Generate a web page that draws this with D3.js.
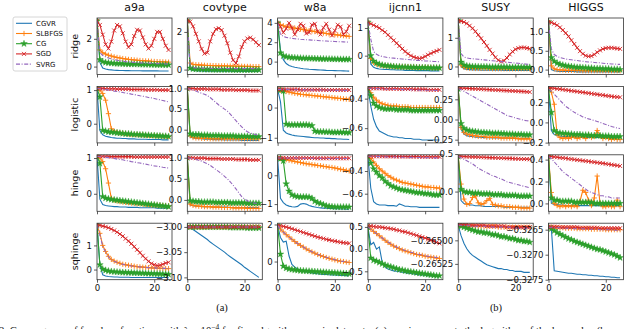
<!DOCTYPE html>
<html>
<head>
<meta charset="utf-8">
<script src="https://cdn.jsdelivr.net/npm/d3@7"></script>
<style>
  body { margin: 0; background: #fff; }
  svg { display: block; }
  text { fill: #111; }
</style>
</head>
<body>
<div id="chart"></div>
<script>
const datasets = ["a9a", "covtype", "w8a", "ijcnn1", "SUSY", "HIGGS"]
const losses = ["ridge", "logistic", "hinge", "sqhinge"]
const algorithms = ["CGVR", "SLBFGS", "CG", "SGD", "SVRG"]
const epochs = [0, 1, 2, 3, 4, 5, 6, 7, 8, 9, 10, 11, 12, 13, 14, 15, 16, 17, 18, 19, 20, 21, 22, 23, 24, 25]
const xTicks = [0, 20]

// y range and ticks of every panel, one row per loss
const ridgeDomains = [[-0.57, 3.5], [-0.26, 2.74], [-1.33, 4.5], [-0.68, 1.36], [-0.28, 1.69], [-0.13, 1.37]]
const logisticDomains = [[-0.57, 1.11], [-0.32, 1.05], [-1.17, 0.7], [-0.70, -0.317], [-0.29, 0.41], [-0.203, 0.357]]
const hingeDomains = [[-0.49, 1.09], [-0.27, 1.07], [-1.25, 0.71], [-0.755, -0.257], [-0.263, 0.49], [-0.072, 0.444]]
const sqhingeDomains = [[-0.42, 1.92], [-3.1046, -2.9926], [-0.98, 2.07], [-0.689, 0.584], [-0.265418, -0.264818], [-0.3275, -0.32637]]

const ridgeTicks = [[0, 2], [0, 2], [0, 2, 4], [0, 1], [0, 1], [0, 0.5, 1]]
const ridgeTickLabels = [["0", "2"], ["0", "2"], ["0", "2", "4"], ["0", "1"], ["0", "1"], ["0.0", "0.5", "1.0"]]
const logisticTicks = [[0, 1], [0, 0.5, 1], [-1, 0], [-0.6, -0.4], [-0.25, 0, 0.25], [-0.2, 0, 0.2]]
const logisticTickLabels = [["0", "1"], ["0.0", "0.5", "1.0"], ["−1", "0"], ["−0.6", "−0.4"], ["−0.25", "0.00", "0.25"], ["−0.2", "0.0", "0.2"]]
const hingeTicks = [[0, 1], [0, 0.5, 1], [-1, 0], [-0.6, -0.4], [0, 0.5], [0, 0.2, 0.4]]
const hingeTickLabels = [["0", "1"], ["0.0", "0.5", "1.0"], ["−1", "0"], ["−0.6", "−0.4"], ["0.0", "0.5"], ["0.0", "0.2", "0.4"]]
const sqhingeTicks = [[0, 1], [-3.1, -3.05, -3.0], [0, 2], [-0.5, 0, 0.5], [-0.26525, -0.265], [-0.3275, -0.327, -0.3265]]
const sqhingeTickLabels = [["0", "1"], ["−3.10", "−3.05", "−3.00"], ["0", "2"], ["−0.5", "0.0", "0.5"], ["−0.26525", "−0.26500"], ["−0.3275", "−0.3270", "−0.3265"]]

// ridge
const ridgeCGVR = [
  [3.3, 0.3, -0.1, -0.18, -0.22, -0.24, -0.26, -0.27, -0.28, -0.28, -0.29, -0.29, -0.3, -0.3, -0.3, -0.3, -0.31, -0.31, -0.31, -0.31, -0.31, -0.31, -0.32, -0.32, -0.32, -0.32],
  [2.6, 0.0, -0.05, -0.06, -0.07, -0.07, -0.08, -0.08, -0.08, -0.08, -0.09, -0.09, -0.09, -0.09, -0.09, -0.09, -0.1, -0.1, -0.1, -0.1, -0.1, -0.1, -0.1, -0.1, -0.1, -0.1],
  [4.0, 1.2, 0.2, -0.2, -0.4, -0.5, -0.58, -0.64, -0.69, -0.73, -0.76, -0.79, -0.81, -0.83, -0.85, -0.87, -0.88, -0.9, -0.91, -0.92, -0.93, -0.94, -0.95, -0.96, -0.97, -0.98],
  [1.2, -0.3, -0.42, -0.46, -0.48, -0.49, -0.5, -0.5, -0.51, -0.51, -0.52, -0.52, -0.52, -0.53, -0.53, -0.53, -0.53, -0.54, -0.54, -0.54, -0.54, -0.54, -0.55, -0.55, -0.55, -0.55],
  [1.6, 0.0, -0.08, -0.1, -0.11, -0.12, -0.12, -0.12, -0.13, -0.13, -0.13, -0.13, -0.13, -0.13, -0.13, -0.13, -0.14, -0.14, -0.14, -0.14, -0.14, -0.14, -0.14, -0.14, -0.14, -0.14],
  [1.27, 0.0, -0.03, -0.04, -0.05, -0.05, -0.05, -0.05, -0.05, -0.05, -0.06, -0.06, -0.06, -0.06, -0.06, -0.06, -0.06, -0.06, -0.06, -0.06, -0.06, -0.06, -0.06, -0.06, -0.06, -0.06]
]
const ridgeSLBFGS = [
  [3.3, 1.2, 1.0, 0.9, 0.82, 0.76, 0.7, 0.66, 0.62, 0.58, 0.55, 0.52, 0.5, 0.48, 0.46, 0.44, 0.42, 0.41, 0.4, 0.38, 0.37, 0.36, 0.35, 0.34, 0.33, 0.32],
  [2.6, 0.35, 0.28, 0.26, 0.25, 0.24, 0.23, 0.22, 0.22, 0.21, 0.21, 0.2, 0.2, 0.2, 0.19, 0.19, 0.19, 0.18, 0.18, 0.18, 0.17, 0.17, 0.17, 0.16, 0.16, 0.16],
  [4.0, 3.8, 3.7, 3.6, 3.55, 3.5, 3.45, 3.4, 3.35, 3.3, 3.25, 3.2, 3.15, 3.1, 3.05, 3.0, 2.95, 2.9, 2.85, 2.8, 2.78, 2.75, 2.72, 2.68, 2.65, 2.6],
  [1.2, -0.1, -0.25, -0.3, -0.33, -0.35, -0.36, -0.37, -0.38, -0.38, -0.39, -0.39, -0.4, -0.4, -0.4, -0.41, -0.41, -0.41, -0.42, -0.42, -0.42, -0.42, -0.43, -0.43, -0.43, -0.43],
  [1.6, 0.05, -0.03, -0.05, -0.06, -0.06, -0.07, -0.07, -0.07, -0.07, -0.07, -0.07, -0.08, -0.08, -0.08, -0.08, -0.08, -0.08, -0.08, -0.08, -0.08, -0.08, -0.08, -0.08, -0.08, -0.08],
  [1.27, 0.1, 0.02, 0.0, -0.01, -0.01, -0.02, -0.02, -0.02, -0.02, -0.02, -0.02, -0.03, -0.03, -0.03, -0.03, -0.03, -0.03, -0.03, -0.03, -0.03, -0.03, -0.03, -0.03, -0.03, -0.03]
]
const ridgeCG = [
  [3.3, 0.5, 0.35, 0.3, 0.27, 0.25, 0.23, 0.22, 0.21, 0.2, 0.19, 0.18, 0.18, 0.17, 0.17, 0.16, 0.16, 0.15, 0.15, 0.14, 0.14, 0.13, 0.13, 0.12, 0.12, 0.12],
  [2.6, 0.08, 0.04, 0.03, 0.02, 0.02, 0.01, 0.01, 0.01, 0.0, 0.0, 0.0, 0.0, 0.0, 0.0, 0.0, -0.01, -0.01, -0.01, -0.01, -0.01, -0.01, -0.01, -0.01, -0.01, -0.01],
  [4.0, 0.9, 0.6, 0.5, 0.45, 0.42, 0.4, 0.38, 0.36, 0.35, 0.34, 0.33, 0.32, 0.31, 0.3, 0.29, 0.28, 0.27, 0.27, 0.26, 0.25, 0.25, 0.24, 0.24, 0.23, 0.23],
  [1.2, 0.0, -0.2, -0.27, -0.31, -0.34, -0.36, -0.37, -0.38, -0.39, -0.4, -0.4, -0.41, -0.41, -0.42, -0.42, -0.42, -0.43, -0.43, -0.43, -0.43, -0.44, -0.44, -0.44, -0.44, -0.44],
  [1.6, 0.15, 0.05, 0.02, 0.01, 0.0, 0.0, -0.01, -0.01, -0.01, -0.01, -0.02, -0.02, -0.02, -0.02, -0.02, -0.02, -0.02, -0.03, -0.03, -0.03, -0.03, -0.03, -0.03, -0.03, -0.03],
  [1.27, 0.32, 0.22, 0.17, 0.14, 0.12, 0.1, 0.09, 0.08, 0.07, 0.06, 0.06, 0.05, 0.05, 0.04, 0.04, 0.03, 0.03, 0.03, 0.02, 0.02, 0.02, 0.01, 0.01, 0.01, 0.0]
]
const ridgeSGD = [
  [3.3, 3.0, 2.3, 1.6, 1.3, 1.8, 2.6, 3.0, 2.9, 2.4, 1.8, 1.4, 1.6, 2.2, 2.65, 2.6, 2.1, 1.6, 1.3, 1.5, 2.0, 2.5, 2.5, 2.0, 1.5, 1.2],
  [2.6, 2.55, 2.3, 1.9, 1.5, 1.1, 0.85, 0.9, 1.5, 1.9, 2.15, 2.2, 2.1, 1.8, 1.4, 0.9, 0.5, 0.35, 0.7, 1.2, 1.5, 1.65, 1.7, 1.6, 1.45, 1.3],
  [4.0, 3.6, 3.0, 3.4, 4.0, 3.5, 2.8, 3.3, 3.9, 3.7, 2.9, 3.0, 3.8, 3.9, 3.1, 2.8, 3.5, 3.9, 3.3, 2.7, 3.2, 3.8, 3.6, 2.8, 3.1, 3.7],
  [1.2, 1.15, 1.1, 1.05, 1.0, 0.92, 0.85, 0.75, 0.65, 0.55, 0.45, 0.35, 0.25, 0.15, 0.07, 0.0, -0.05, -0.08, -0.1, -0.08, -0.03, 0.03, 0.08, 0.13, 0.17, 0.21],
  [1.6, 1.58, 1.55, 1.5, 1.42, 1.33, 1.22, 1.1, 0.98, 0.85, 0.72, 0.58, 0.45, 0.32, 0.22, 0.17, 0.2, 0.3, 0.42, 0.52, 0.6, 0.64, 0.66, 0.66, 0.64, 0.62],
  [1.27, 1.25, 1.22, 1.18, 1.12, 1.05, 0.97, 0.88, 0.78, 0.68, 0.58, 0.49, 0.42, 0.37, 0.35, 0.36, 0.4, 0.46, 0.51, 0.55, 0.57, 0.58, 0.58, 0.57, 0.56, 0.55]
]
const ridgeSVRG = [
  [3.3, 1.0, 0.8, 0.7, 0.62, 0.56, 0.5, 0.46, 0.42, 0.39, 0.36, 0.34, 0.32, 0.3, 0.28, 0.27, 0.26, 0.25, 0.24, 0.23, 0.22, 0.21, 0.2, 0.2, 0.19, 0.19],
  [2.6, 0.15, 0.1, 0.09, 0.08, 0.08, 0.07, 0.07, 0.07, 0.06, 0.06, 0.06, 0.06, 0.06, 0.06, 0.05, 0.05, 0.05, 0.05, 0.05, 0.05, 0.05, 0.05, 0.05, 0.05, 0.05],
  [4.0, 2.8, 2.6, 2.5, 2.45, 2.4, 2.36, 2.33, 2.3, 2.28, 2.26, 2.24, 2.22, 2.2, 2.18, 2.16, 2.14, 2.12, 2.1, 2.09, 2.08, 2.06, 2.05, 2.04, 2.02, 2.0],
  [1.2, 0.6, 0.15, 0.05, 0.0, -0.03, -0.05, -0.07, -0.08, -0.09, -0.1, -0.11, -0.12, -0.13, -0.14, -0.15, -0.16, -0.17, -0.17, -0.18, -0.19, -0.19, -0.2, -0.21, -0.21, -0.22],
  [1.6, 0.45, 0.33, 0.3, 0.28, 0.27, 0.26, 0.25, 0.24, 0.23, 0.22, 0.21, 0.2, 0.19, 0.18, 0.17, 0.16, 0.15, 0.14, 0.13, 0.12, 0.11, 0.1, 0.09, 0.08, 0.07],
  [1.27, 0.55, 0.4, 0.35, 0.32, 0.3, 0.28, 0.27, 0.26, 0.25, 0.24, 0.23, 0.22, 0.21, 0.2, 0.2, 0.19, 0.18, 0.18, 0.17, 0.16, 0.16, 0.15, 0.15, 0.14, 0.14]
]

// logistic
const logisticCGVR = [
  [1.05, -0.2, -0.33, -0.37, -0.39, -0.41, -0.42, -0.43, -0.43, -0.44, -0.44, -0.45, -0.45, -0.45, -0.46, -0.46, -0.46, -0.46, -0.47, -0.47, -0.47, -0.47, -0.47, -0.48, -0.48, -0.48],
  [1.0, -0.18, -0.2, -0.21, -0.22, -0.22, -0.23, -0.23, -0.23, -0.24, -0.24, -0.24, -0.24, -0.25, -0.25, -0.25, -0.25, -0.25, -0.25, -0.26, -0.26, -0.26, -0.26, -0.26, -0.26, -0.26],
  [0.6, 0.2, -0.75, -0.84, -0.88, -0.91, -0.93, -0.94, -0.95, -0.96, -0.97, -0.98, -0.99, -1.0, -1.0, -1.01, -1.01, -1.02, -1.02, -1.03, -1.03, -1.04, -1.04, -1.05, -1.05, -1.06],
  [-0.33, -0.45, -0.54, -0.59, -0.62, -0.63, -0.64, -0.65, -0.655, -0.66, -0.66, -0.665, -0.665, -0.67, -0.67, -0.67, -0.675, -0.675, -0.675, -0.68, -0.68, -0.68, -0.68, -0.68, -0.68, -0.68],
  [0.38, -0.12, -0.18, -0.2, -0.21, -0.21, -0.22, -0.22, -0.22, -0.225, -0.225, -0.225, -0.23, -0.23, -0.23, -0.23, -0.23, -0.23, -0.235, -0.235, -0.235, -0.235, -0.235, -0.235, -0.235, -0.235],
  [0.33, -0.08, -0.12, -0.13, -0.135, -0.14, -0.14, -0.14, -0.145, -0.145, -0.145, -0.145, -0.15, -0.15, -0.15, -0.15, -0.15, -0.15, -0.15, -0.15, -0.15, -0.15, -0.15, -0.15, -0.15, -0.15]
]
const logisticSLBFGS = [
  [1.05, 1.0, 0.9, 0.7, 0.3, -0.15, -0.22, -0.25, -0.27, -0.28, -0.29, -0.3, -0.31, -0.32, -0.32, -0.33, -0.33, -0.34, -0.34, -0.35, -0.35, -0.36, -0.36, -0.37, -0.37, -0.38],
  [1.0, -0.15, -0.19, -0.2, -0.2, -0.21, -0.21, -0.21, -0.22, -0.22, -0.22, -0.22, -0.22, -0.22, -0.22, -0.22, -0.22, -0.22, -0.22, -0.22, -0.22, -0.22, -0.22, -0.22, -0.22, -0.22],
  [0.6, 0.57, 0.55, 0.53, 0.51, 0.49, 0.47, 0.46, 0.44, 0.43, 0.42, 0.41, 0.4, 0.39, 0.38, 0.37, 0.36, 0.35, 0.34, 0.33, 0.32, 0.31, 0.3, 0.29, 0.28, 0.27],
  [-0.33, -0.36, -0.39, -0.41, -0.425, -0.435, -0.44, -0.445, -0.45, -0.45, -0.45, -0.455, -0.455, -0.455, -0.455, -0.46, -0.46, -0.46, -0.46, -0.46, -0.46, -0.46, -0.46, -0.46, -0.46, -0.46],
  [0.38, -0.1, -0.16, -0.18, -0.19, -0.2, -0.2, -0.21, -0.21, -0.21, -0.22, -0.22, -0.22, -0.22, -0.22, -0.23, -0.23, -0.23, -0.23, -0.23, -0.23, -0.24, -0.24, -0.24, -0.24, -0.24],
  [0.33, 0.3, 0.18, -0.12, -0.15, -0.16, -0.15, -0.16, -0.15, -0.14, -0.16, -0.15, -0.14, -0.16, -0.12, -0.15, -0.14, -0.08, -0.13, -0.16, -0.15, -0.16, -0.17, -0.16, -0.17, -0.17]
]
const logisticCG = [
  [1.05, 0.8, -0.2, -0.22, -0.24, -0.25, -0.26, -0.27, -0.28, -0.29, -0.3, -0.3, -0.31, -0.32, -0.32, -0.33, -0.33, -0.34, -0.34, -0.35, -0.35, -0.36, -0.36, -0.37, -0.37, -0.38],
  [1.0, -0.1, -0.12, -0.12, -0.12, -0.13, -0.13, -0.13, -0.14, -0.14, -0.14, -0.14, -0.15, -0.15, -0.15, -0.15, -0.15, -0.16, -0.16, -0.16, -0.16, -0.16, -0.17, -0.17, -0.17, -0.17],
  [0.6, 0.58, 0.55, -0.55, -0.57, -0.57, -0.57, -0.57, -0.57, -0.57, -0.57, -0.58, -0.6, -0.78, -0.8, -0.8, -0.8, -0.81, -0.81, -0.82, -0.82, -0.82, -0.82, -0.82, -0.83, -0.83],
  [-0.33, -0.38, -0.43, -0.45, -0.46, -0.465, -0.47, -0.47, -0.47, -0.47, -0.475, -0.475, -0.475, -0.475, -0.475, -0.48, -0.48, -0.48, -0.48, -0.48, -0.48, -0.48, -0.48, -0.48, -0.48, -0.48],
  [0.38, -0.05, -0.11, -0.13, -0.14, -0.145, -0.15, -0.155, -0.16, -0.16, -0.165, -0.165, -0.17, -0.17, -0.17, -0.175, -0.175, -0.18, -0.18, -0.18, -0.185, -0.185, -0.185, -0.19, -0.19, -0.19],
  [0.33, 0.1, -0.08, -0.1, -0.105, -0.11, -0.11, -0.115, -0.115, -0.12, -0.12, -0.12, -0.125, -0.125, -0.125, -0.13, -0.13, -0.13, -0.13, -0.135, -0.135, -0.135, -0.14, -0.14, -0.14, -0.14]
]
const logisticSGD = [
  [1.05, 1.05, 1.05, 1.04, 1.04, 1.04, 1.04, 1.03, 1.03, 1.03, 1.03, 1.03, 1.02, 1.02, 1.02, 1.02, 1.02, 1.01, 1.01, 1.01, 1.01, 1.01, 1.0, 1.0, 1.0, 1.0],
  [1.0, 1.0, 1.0, 0.99, 0.99, 0.99, 0.99, 0.98, 0.98, 0.98, 0.98, 0.98, 0.97, 0.97, 0.97, 0.97, 0.97, 0.96, 0.96, 0.96, 0.96, 0.96, 0.95, 0.95, 0.95, 0.95],
  [0.6, 0.6, 0.6, 0.6, 0.6, 0.6, 0.6, 0.6, 0.59, 0.59, 0.59, 0.59, 0.59, 0.59, 0.59, 0.59, 0.59, 0.58, 0.58, 0.58, 0.58, 0.58, 0.58, 0.58, 0.58, 0.58],
  [-0.33, -0.33, -0.33, -0.33, -0.33, -0.33, -0.333, -0.333, -0.333, -0.333, -0.333, -0.335, -0.335, -0.335, -0.335, -0.335, -0.337, -0.337, -0.337, -0.337, -0.337, -0.34, -0.34, -0.34, -0.34, -0.34],
  [0.39, 0.39, 0.388, 0.386, 0.384, 0.382, 0.38, 0.378, 0.376, 0.374, 0.372, 0.37, 0.368, 0.366, 0.364, 0.362, 0.36, 0.358, 0.356, 0.354, 0.352, 0.35, 0.348, 0.346, 0.343, 0.34],
  [0.345, 0.342, 0.338, 0.334, 0.33, 0.326, 0.322, 0.318, 0.314, 0.31, 0.306, 0.302, 0.298, 0.294, 0.29, 0.286, 0.282, 0.278, 0.274, 0.27, 0.266, 0.262, 0.258, 0.255, 0.252, 0.249]
]
const logisticSVRG = [
  [1.05, 1.04, 1.03, 1.02, 1.0, 0.99, 0.97, 0.96, 0.94, 0.93, 0.91, 0.9, 0.88, 0.87, 0.85, 0.83, 0.82, 0.8, 0.78, 0.77, 0.75, 0.73, 0.71, 0.69, 0.67, 0.65],
  [1.0, 0.98, 0.96, 0.94, 0.91, 0.88, 0.86, 0.83, 0.78, 0.72, 0.66, 0.6, 0.55, 0.5, 0.45, 0.38, 0.3, 0.22, 0.14, 0.07, 0.0, -0.05, -0.08, -0.1, -0.12, -0.13],
  [0.6, 0.6, 0.6, 0.6, 0.6, 0.59, 0.59, 0.59, 0.59, 0.59, 0.59, 0.59, 0.58, 0.58, 0.58, 0.58, 0.58, 0.58, 0.58, 0.57, 0.57, 0.57, 0.57, 0.57, 0.57, 0.57],
  [-0.33, -0.33, -0.331, -0.332, -0.333, -0.334, -0.335, -0.336, -0.337, -0.337, -0.338, -0.338, -0.339, -0.339, -0.34, -0.34, -0.341, -0.341, -0.342, -0.342, -0.343, -0.343, -0.344, -0.344, -0.345, -0.345],
  [0.38, 0.37, 0.35, 0.33, 0.31, 0.29, 0.27, 0.25, 0.23, 0.21, 0.19, 0.17, 0.15, 0.13, 0.11, 0.09, 0.07, 0.05, 0.04, 0.03, 0.02, 0.01, 0.0, -0.01, -0.015, -0.02],
  [0.33, 0.31, 0.28, 0.25, 0.22, 0.19, 0.16, 0.14, 0.12, 0.1, 0.085, 0.07, 0.055, 0.045, 0.035, 0.027, 0.018, 0.01, 0.0, -0.01, -0.02, -0.03, -0.04, -0.048, -0.055, -0.06]
]

// hinge
const hingeCGVR = [
  [1.05, -0.15, -0.3, -0.33, -0.34, -0.35, -0.36, -0.36, -0.37, -0.37, -0.37, -0.38, -0.38, -0.38, -0.38, -0.39, -0.39, -0.39, -0.39, -0.39, -0.39, -0.4, -0.4, -0.4, -0.4, -0.4],
  [1.0, -0.12, -0.14, -0.15, -0.15, -0.16, -0.16, -0.16, -0.16, -0.17, -0.17, -0.17, -0.17, -0.17, -0.17, -0.18, -0.18, -0.18, -0.18, -0.18, -0.18, -0.18, -0.18, -0.18, -0.18, -0.18],
  [0.6, -0.8, -0.95, -1.03, -1.07, -1.09, -1.1, -1.08, -1.0, -0.98, -1.0, -1.05, -1.08, -1.1, -1.12, -1.13, -1.14, -1.14, -1.15, -1.15, -1.16, -1.16, -1.17, -1.17, -1.18, -1.18],
  [-0.27, -0.55, -0.67, -0.69, -0.7, -0.7, -0.7, -0.705, -0.705, -0.705, -0.71, -0.69, -0.7, -0.71, -0.71, -0.715, -0.715, -0.715, -0.72, -0.72, -0.72, -0.72, -0.72, -0.72, -0.72, -0.72],
  [0.47, -0.12, -0.16, -0.17, -0.18, -0.18, -0.19, -0.19, -0.19, -0.2, -0.2, -0.2, -0.2, -0.2, -0.2, -0.2, -0.21, -0.21, -0.21, -0.21, -0.21, -0.21, -0.21, -0.21, -0.21, -0.21],
  [0.43, 0.0, -0.01, -0.01, -0.015, -0.015, -0.02, -0.02, -0.02, -0.02, -0.02, -0.02, -0.02, -0.02, -0.02, -0.02, -0.02, -0.02, -0.02, -0.02, -0.02, -0.02, -0.02, -0.02, -0.02, -0.02]
]
const hingeSLBFGS = [
  [1.05, 1.0, 0.9, 0.7, 0.3, -0.12, -0.18, -0.2, -0.22, -0.23, -0.24, -0.25, -0.26, -0.27, -0.28, -0.28, -0.29, -0.3, -0.3, -0.31, -0.31, -0.32, -0.32, -0.33, -0.33, -0.34],
  [1.0, -0.1, -0.13, -0.14, -0.15, -0.15, -0.16, -0.16, -0.16, -0.17, -0.17, -0.17, -0.18, -0.18, -0.18, -0.18, -0.19, -0.19, -0.19, -0.19, -0.19, -0.2, -0.2, -0.2, -0.2, -0.2],
  [0.6, 0.58, 0.56, 0.54, 0.52, 0.5, 0.48, 0.46, 0.44, 0.42, 0.4, 0.39, 0.37, 0.36, 0.34, 0.33, 0.31, 0.3, 0.28, 0.27, 0.25, 0.23, 0.21, 0.19, 0.17, 0.15],
  [-0.27, -0.29, -0.32, -0.35, -0.38, -0.4, -0.42, -0.44, -0.455, -0.47, -0.48, -0.49, -0.5, -0.505, -0.51, -0.515, -0.52, -0.525, -0.53, -0.535, -0.54, -0.54, -0.545, -0.545, -0.55, -0.55],
  [0.47, 0.1, -0.1, -0.17, -0.16, -0.08, -0.06, -0.15, -0.17, -0.16, -0.12, -0.09, -0.17, -0.18, -0.19, -0.19, -0.2, -0.2, -0.2, -0.21, -0.21, -0.21, -0.22, -0.22, -0.22, -0.22],
  [0.43, 0.1, 0.0, -0.02, -0.03, -0.02, -0.03, -0.02, -0.03, -0.02, -0.03, 0.02, 0.12, 0.1, 0.03, -0.02, 0.05, 0.25, 0.0, -0.03, -0.03, -0.02, -0.03, -0.03, 0.03, -0.03]
]
const hingeCG = [
  [1.05, 0.85, -0.08, -0.12, -0.14, -0.16, -0.17, -0.18, -0.19, -0.2, -0.21, -0.22, -0.23, -0.24, -0.25, -0.26, -0.27, -0.28, -0.29, -0.3, -0.31, -0.32, -0.33, -0.34, -0.35, -0.36],
  [1.0, -0.02, -0.03, -0.04, -0.04, -0.05, -0.05, -0.05, -0.05, -0.05, -0.06, -0.06, -0.06, -0.06, -0.06, -0.07, -0.07, -0.07, -0.07, -0.07, -0.07, -0.08, -0.08, -0.08, -0.08, -0.08],
  [0.6, 0.58, 0.5, -0.3, -0.55, -0.68, -0.72, -0.74, -0.75, -0.75, -0.75, -0.76, -0.8, -0.9, -0.95, -0.98, -1.02, -1.06, -1.08, -1.09, -1.1, -1.1, -1.1, -1.1, -1.1, -1.1],
  [-0.27, -0.33, -0.38, -0.41, -0.44, -0.46, -0.49, -0.51, -0.53, -0.54, -0.55, -0.56, -0.565, -0.57, -0.575, -0.58, -0.585, -0.59, -0.59, -0.595, -0.6, -0.6, -0.605, -0.61, -0.61, -0.61],
  [0.47, 0.03, 0.0, -0.01, -0.01, -0.02, -0.02, -0.02, -0.03, -0.03, -0.03, -0.03, -0.04, -0.04, -0.04, -0.04, -0.05, -0.05, -0.05, -0.05, -0.05, -0.06, -0.06, -0.06, -0.06, -0.06],
  [0.43, 0.05, 0.03, 0.03, 0.02, 0.02, 0.02, 0.02, 0.02, 0.01, 0.01, 0.01, 0.01, 0.01, 0.01, 0.01, 0.0, 0.0, 0.0, 0.0, 0.0, 0.0, 0.0, 0.0, 0.0, 0.0]
]
const hingeSGD = [
  [1.05, 1.05, 1.05, 1.05, 1.05, 1.04, 1.04, 1.04, 1.04, 1.04, 1.04, 1.04, 1.04, 1.03, 1.03, 1.03, 1.03, 1.03, 1.03, 1.03, 1.03, 1.03, 1.03, 1.03, 1.03, 1.03],
  [1.0, 1.0, 1.0, 0.99, 0.99, 0.99, 0.99, 0.98, 0.98, 0.98, 0.98, 0.98, 0.97, 0.97, 0.97, 0.97, 0.97, 0.96, 0.96, 0.96, 0.96, 0.96, 0.95, 0.95, 0.95, 0.95],
  [0.6, 0.6, 0.6, 0.6, 0.6, 0.6, 0.6, 0.6, 0.6, 0.6, 0.6, 0.6, 0.6, 0.59, 0.59, 0.59, 0.59, 0.59, 0.59, 0.59, 0.59, 0.59, 0.59, 0.59, 0.59, 0.59],
  [-0.27, -0.27, -0.27, -0.27, -0.27, -0.27, -0.271, -0.271, -0.271, -0.271, -0.272, -0.272, -0.272, -0.272, -0.273, -0.273, -0.273, -0.273, -0.274, -0.274, -0.274, -0.274, -0.275, -0.275, -0.275, -0.275],
  [0.47, 0.47, 0.468, 0.466, 0.465, 0.463, 0.462, 0.46, 0.458, 0.457, 0.455, 0.453, 0.452, 0.45, 0.448, 0.447, 0.445, 0.443, 0.442, 0.44, 0.438, 0.437, 0.435, 0.433, 0.432, 0.43],
  [0.43, 0.428, 0.425, 0.422, 0.418, 0.415, 0.412, 0.408, 0.405, 0.401, 0.398, 0.394, 0.391, 0.387, 0.384, 0.38, 0.377, 0.373, 0.37, 0.366, 0.362, 0.358, 0.354, 0.35, 0.346, 0.342]
]
const hingeSVRG = [
  [1.05, 1.04, 1.03, 1.02, 1.01, 1.0, 0.99, 0.97, 0.96, 0.95, 0.93, 0.92, 0.9, 0.89, 0.87, 0.86, 0.84, 0.83, 0.81, 0.8, 0.78, 0.77, 0.76, 0.74, 0.73, 0.72],
  [1.0, 0.99, 0.98, 0.96, 0.94, 0.92, 0.89, 0.86, 0.82, 0.77, 0.72, 0.67, 0.62, 0.56, 0.5, 0.43, 0.35, 0.26, 0.17, 0.08, 0.02, -0.02, -0.05, -0.07, -0.08, -0.09],
  [0.6, 0.6, 0.6, 0.6, 0.6, 0.6, 0.6, 0.59, 0.59, 0.59, 0.59, 0.59, 0.59, 0.59, 0.59, 0.59, 0.58, 0.58, 0.58, 0.58, 0.58, 0.58, 0.58, 0.58, 0.58, 0.58],
  [-0.27, -0.27, -0.271, -0.272, -0.273, -0.274, -0.275, -0.276, -0.276, -0.277, -0.277, -0.278, -0.278, -0.279, -0.279, -0.28, -0.28, -0.281, -0.281, -0.282, -0.282, -0.283, -0.283, -0.284, -0.284, -0.285],
  [0.47, 0.45, 0.43, 0.41, 0.39, 0.37, 0.34, 0.31, 0.29, 0.27, 0.25, 0.23, 0.21, 0.2, 0.18, 0.17, 0.15, 0.13, 0.12, 0.11, 0.1, 0.09, 0.08, 0.07, 0.06, 0.05],
  [0.43, 0.41, 0.38, 0.35, 0.32, 0.29, 0.27, 0.25, 0.23, 0.21, 0.19, 0.17, 0.15, 0.13, 0.11, 0.1, 0.09, 0.08, 0.07, 0.07, 0.06, 0.06, 0.05, 0.05, 0.05, 0.05]
]

// sqhinge
const sqhingeCGVR = [
  [1.85, 0.2, -0.22, -0.27, -0.29, -0.3, -0.31, -0.31, -0.32, -0.32, -0.32, -0.32, -0.33, -0.33, -0.33, -0.33, -0.33, -0.33, -0.33, -0.33, -0.33, -0.33, -0.33, -0.33, -0.33, -0.33],
  [-3.0, -3.001, -3.005, -3.009, -3.013, -3.017, -3.021, -3.025, -3.03, -3.034, -3.038, -3.042, -3.046, -3.05, -3.055, -3.059, -3.063, -3.067, -3.071, -3.075, -3.08, -3.084, -3.088, -3.092, -3.096, -3.1],
  [1.95, 1.3, 1.05, 1.1, 0.3, -0.15, -0.3, -0.4, -0.47, -0.52, -0.56, -0.59, -0.62, -0.64, -0.66, -0.68, -0.69, -0.7, -0.71, -0.72, -0.73, -0.74, -0.75, -0.75, -0.76, -0.77],
  [0.5, 0.1, 0.15, 0.0, 0.05, -0.3, -0.4, -0.45, -0.47, -0.49, -0.5, -0.51, -0.52, -0.53, -0.54, -0.55, -0.56, -0.57, -0.58, -0.58, -0.59, -0.6, -0.6, -0.61, -0.61, -0.62],
  [-0.26484, -0.26495, -0.26503, -0.26509, -0.26513, -0.26516, -0.26518, -0.2652, -0.26522, -0.26524, -0.26526, -0.26527, -0.26528, -0.26529, -0.2653, -0.2653, -0.26531, -0.26531, -0.26532, -0.26532, -0.26533, -0.26533, -0.26533, -0.26534, -0.26534, -0.26534],
  [-0.32645, -0.32648, -0.32732, -0.32733, -0.32734, -0.32735, -0.32736, -0.32737, -0.32737, -0.32738, -0.32739, -0.32739, -0.3274, -0.3274, -0.32741, -0.32741, -0.32742, -0.32742, -0.32743, -0.32743, -0.32744, -0.32744, -0.32745, -0.32745, -0.32746, -0.32746]
]
const sqhingeSLBFGS = [
  [1.85, 1.5, 1.0, 0.75, 0.55, 0.42, 0.35, 0.3, 0.26, 0.22, 0.2, 0.18, 0.16, 0.14, 0.12, 0.11, 0.1, 0.09, 0.08, 0.07, 0.06, 0.06, 0.05, 0.05, 0.04, 0.04],
  [-3.0, -3.0, -3.0, -3.0, -3.0, -3.0, -3.0, -3.0, -3.0, -3.0, -3.0, -3.0, -3.0, -3.0, -3.0, -3.0, -3.0, -3.0, -3.0, -3.0, -3.0, -3.0, -3.0, -3.0, -3.0, -3.0],
  [1.95, 1.75, 1.6, 1.45, 1.33, 1.2, 1.08, 0.97, 0.87, 0.78, 0.68, 0.6, 0.52, 0.45, 0.38, 0.32, 0.27, 0.22, 0.17, 0.13, 0.09, 0.05, 0.02, 0.0, -0.03, -0.05],
  [0.5, 0.45, 0.4, 0.35, 0.3, 0.25, 0.2, 0.15, 0.11, 0.07, 0.04, 0.01, -0.02, -0.04, -0.06, -0.08, -0.1, -0.12, -0.13, -0.14, -0.16, -0.17, -0.18, -0.19, -0.2, -0.21],
  [-0.26484, -0.26484, -0.26484, -0.26484, -0.26484, -0.26484, -0.26485, -0.26485, -0.26485, -0.26485, -0.26485, -0.26485, -0.26485, -0.26485, -0.26486, -0.26486, -0.26486, -0.26486, -0.26486, -0.26486, -0.26486, -0.26486, -0.26486, -0.26486, -0.26486, -0.26486],
  [-0.32645, -0.32645, -0.32646, -0.32646, -0.32646, -0.32646, -0.32647, -0.32647, -0.32647, -0.32647, -0.32648, -0.32648, -0.32648, -0.32648, -0.32648, -0.32649, -0.32649, -0.32649, -0.32649, -0.32649, -0.3265, -0.3265, -0.3265, -0.3265, -0.3265, -0.3265]
]
const sqhingeCG = [
  [1.85, 0.2, 0.02, -0.03, -0.06, -0.08, -0.09, -0.1, -0.11, -0.12, -0.12, -0.13, -0.13, -0.14, -0.14, -0.15, -0.15, -0.16, -0.16, -0.17, -0.17, -0.18, -0.18, -0.19, -0.19, -0.2],
  [-3.0, -3.0, -3.0, -3.0, -3.0, -3.0, -3.0, -3.0, -3.0, -3.0, -3.0, -3.0, -3.0, -3.0, -3.0, -3.001, -3.001, -3.001, -3.001, -3.001, -3.001, -3.002, -3.002, -3.002, -3.002, -3.002],
  [1.95, 0.4, -0.25, -0.35, -0.4, -0.43, -0.45, -0.47, -0.49, -0.5, -0.51, -0.52, -0.53, -0.54, -0.55, -0.56, -0.57, -0.58, -0.59, -0.6, -0.61, -0.62, -0.63, -0.64, -0.65, -0.66],
  [0.5, -0.2, -0.25, -0.27, -0.3, -0.33, -0.36, -0.38, -0.4, -0.42, -0.44, -0.46, -0.47, -0.49, -0.5, -0.51, -0.52, -0.53, -0.54, -0.55, -0.56, -0.57, -0.58, -0.59, -0.6, -0.6],
  [-0.26484, -0.26485, -0.26486, -0.26487, -0.26488, -0.26489, -0.2649, -0.26491, -0.26491, -0.26492, -0.26492, -0.26493, -0.26494, -0.26494, -0.26495, -0.26496, -0.26496, -0.26497, -0.26498, -0.26498, -0.26499, -0.265, -0.265, -0.26501, -0.26501, -0.26502],
  [-0.32645, -0.32648, -0.32652, -0.32656, -0.32659, -0.32662, -0.32665, -0.32668, -0.3267, -0.32673, -0.32675, -0.32677, -0.32679, -0.32681, -0.32683, -0.32685, -0.32687, -0.32689, -0.3269, -0.32692, -0.32694, -0.32696, -0.32698, -0.327, -0.32703, -0.32706]
]
const sqhingeSGD = [
  [1.85, 1.83, 1.8, 1.77, 1.73, 1.68, 1.62, 1.55, 1.47, 1.38, 1.28, 1.18, 1.07, 0.95, 0.82, 0.7, 0.57, 0.45, 0.34, 0.25, 0.2, 0.17, 0.18, 0.22, 0.27, 0.3],
  [-3.0, -3.0, -3.0, -3.0, -3.0, -3.0, -3.0, -3.0, -3.0, -3.0, -3.0, -3.0, -3.0, -3.0, -3.0, -3.0, -3.0, -3.0, -3.0, -3.0, -3.0, -3.0, -3.0, -3.0, -3.0, -3.0],
  [1.95, 1.93, 1.9, 1.86, 1.82, 1.77, 1.72, 1.67, 1.62, 1.57, 1.52, 1.47, 1.42, 1.37, 1.32, 1.28, 1.24, 1.2, 1.17, 1.13, 1.1, 1.07, 1.04, 1.02, 1.0, 0.98],
  [0.52, 0.52, 0.51, 0.5, 0.5, 0.49, 0.48, 0.47, 0.46, 0.45, 0.43, 0.42, 0.4, 0.39, 0.37, 0.35, 0.33, 0.31, 0.29, 0.27, 0.25, 0.22, 0.2, 0.18, 0.15, 0.13],
  [-0.26483, -0.26483, -0.26483, -0.26483, -0.26484, -0.26484, -0.26484, -0.26484, -0.26484, -0.26484, -0.26485, -0.26485, -0.26485, -0.26485, -0.26485, -0.26485, -0.26485, -0.26486, -0.26486, -0.26486, -0.26486, -0.26486, -0.26486, -0.26486, -0.26486, -0.26486],
  [-0.32644, -0.32644, -0.32644, -0.32644, -0.32645, -0.32645, -0.32645, -0.32645, -0.32645, -0.32645, -0.32645, -0.32646, -0.32646, -0.32646, -0.32646, -0.32646, -0.32646, -0.32646, -0.32647, -0.32647, -0.32647, -0.32647, -0.32647, -0.32647, -0.32647, -0.32647]
]
const sqhingeSVRG = [
  [1.85, 1.45, 0.95, 0.72, 0.53, 0.41, 0.34, 0.29, 0.25, 0.22, 0.19, 0.17, 0.15, 0.14, 0.12, 0.11, 0.1, 0.09, 0.08, 0.07, 0.07, 0.06, 0.06, 0.05, 0.05, 0.05],
  [-3.0, -3.0, -3.0, -3.0, -3.0, -3.0, -3.0, -3.0, -3.0, -3.0, -3.0, -3.0, -3.0, -3.0, -3.0, -3.0, -3.0, -3.0, -3.0, -3.0, -3.0, -3.0, -3.0, -3.0, -3.0, -3.0],
  [1.95, 1.74, 1.58, 1.44, 1.32, 1.2, 1.08, 0.97, 0.87, 0.78, 0.69, 0.61, 0.53, 0.46, 0.39, 0.33, 0.28, 0.23, 0.18, 0.14, 0.1, 0.06, 0.03, 0.01, -0.02, -0.04],
  [0.5, 0.45, 0.4, 0.35, 0.3, 0.25, 0.2, 0.16, 0.12, 0.08, 0.05, 0.02, -0.01, -0.03, -0.05, -0.07, -0.09, -0.11, -0.12, -0.13, -0.15, -0.16, -0.17, -0.18, -0.19, -0.2],
  [-0.26484, -0.26484, -0.26484, -0.26484, -0.26484, -0.26485, -0.26485, -0.26485, -0.26485, -0.26485, -0.26485, -0.26485, -0.26486, -0.26486, -0.26486, -0.26486, -0.26486, -0.26486, -0.26486, -0.26487, -0.26487, -0.26487, -0.26487, -0.26487, -0.26487, -0.26487],
  [-0.32645, -0.32645, -0.32646, -0.32646, -0.32646, -0.32647, -0.32647, -0.32647, -0.32647, -0.32648, -0.32648, -0.32648, -0.32648, -0.32649, -0.32649, -0.32649, -0.32649, -0.32649, -0.3265, -0.3265, -0.3265, -0.3265, -0.3265, -0.32651, -0.32651, -0.32651]
]

function drawChart() {
  const width = 640
  const height = 329
  const grid = { left: 97, top: 18, width: 75, height: 56.5, colStep: 90.3, rowStep: 68.4 }
  const sans = "DejaVu Sans, sans-serif"
  const serif = "Liberation Serif, serif"

  const colors = { CGVR: "#1f77b4", SLBFGS: "#ff7f0e", CG: "#2ca02c", SGD: "#d62728", SVRG: "#9467bd" }
  const markers = {
    SLBFGS: { d: "M-2.6,0H2.6M0,-2.6V2.6", fill: "none" },
    CG: { d: d3.symbol(d3.symbolStar, 14)(), fill: colors.CG },
    SGD: { d: "M-2,-2L2,2M-2,2L2,-2", fill: "none" }
  }

  const rows = {
    ridge: { series: [ridgeCGVR, ridgeSLBFGS, ridgeCG, ridgeSGD, ridgeSVRG], domains: ridgeDomains, ticks: ridgeTicks, labels: ridgeTickLabels },
    logistic: { series: [logisticCGVR, logisticSLBFGS, logisticCG, logisticSGD, logisticSVRG], domains: logisticDomains, ticks: logisticTicks, labels: logisticTickLabels },
    hinge: { series: [hingeCGVR, hingeSLBFGS, hingeCG, hingeSGD, hingeSVRG], domains: hingeDomains, ticks: hingeTicks, labels: hingeTickLabels },
    sqhinge: { series: [sqhingeCGVR, sqhingeSLBFGS, sqhingeCG, sqhingeSGD, sqhingeSVRG], domains: sqhingeDomains, ticks: sqhingeTicks, labels: sqhingeTickLabels }
  }

  const svg = d3.select("#chart").append("svg")
    .attr("width", width)
    .attr("height", height)

  const xScale = d3.scaleLinear()
    .domain([0, 26.2])
    .range([0, grid.width])

  losses.forEach((loss, r) => {
    const row = rows[loss]
    datasets.forEach((name, c) => {
      const g = svg.append("g")
        .attr("transform", `translate(${grid.left + c * grid.colStep},${grid.top + r * grid.rowStep})`)

      const yScale = d3.scaleLinear()
        .domain(row.domains[c])
        .range([grid.height, 0])

      const clipId = `clip-${r}-${c}`
      g.append("clipPath").attr("id", clipId)
        .append("rect")
        .attr("width", grid.width)
        .attr("height", grid.height)

      const plot = g.append("g").attr("clip-path", `url(#${clipId})`)
      const line = d3.line()
        .x((d, i) => xScale(epochs[i]))
        .y(d => yScale(d))

      algorithms.forEach((alg, a) => {
        const values = row.series[a][c]
        plot.append("path")
          .attr("d", line(values))
          .attr("fill", "none")
          .attr("stroke", colors[alg])
          .attr("stroke-width", 1.1)
          .attr("stroke-dasharray", alg === "SVRG" ? "4,1.6,1,1.6" : null)
        if (markers[alg]) {
          plot.selectAll(null)
            .data(values)
            .enter().append("path")
            .attr("transform", (d, i) => `translate(${xScale(epochs[i])},${yScale(d)})`)
            .attr("d", markers[alg].d)
            .attr("fill", markers[alg].fill)
            .attr("stroke", colors[alg])
            .attr("stroke-width", alg === "CG" ? 0.4 : 0.9)
        }
      })

      // frame
      g.append("rect")
        .attr("width", grid.width)
        .attr("height", grid.height)
        .attr("fill", "none")
        .attr("stroke", "#333")
        .attr("stroke-width", 0.8)

      // y axis
      const yAxis = d3.axisLeft(yScale)
        .tickValues(row.ticks[c])
        .tickFormat((d, i) => row.labels[c][i])
        .tickSize(3)
        .tickPadding(2)
      const ya = g.append("g").call(yAxis)
      ya.select(".domain").remove()
      ya.selectAll("line").attr("stroke", "#333").attr("stroke-width", 0.8)
      ya.selectAll("text").style("font-size", "8.6px").style("font-family", sans).attr("fill", "#111")

      // x axis
      const xAxis = d3.axisBottom(xScale)
        .tickValues(xTicks)
        .tickFormat(r === losses.length - 1 ? d3.format("d") : () => "")
        .tickSize(3)
        .tickPadding(2)
      const xa = g.append("g")
        .attr("transform", `translate(0,${grid.height})`)
        .call(xAxis)
      xa.select(".domain").remove()
      xa.selectAll("line").attr("stroke", "#333").attr("stroke-width", 0.8)
      xa.selectAll("text").style("font-size", "8.6px").style("font-family", sans).attr("fill", "#111")

      if (r === 0) {
        g.append("text")
          .attr("x", grid.width / 2)
          .attr("y", -7)
          .attr("text-anchor", "middle")
          .style("font-family", sans)
          .style("font-size", "11px")
          .text(name)
      }
      if (c === 0) {
        g.append("text")
          .attr("transform", `translate(-19,${grid.height / 2}) rotate(-90)`)
          .attr("text-anchor", "middle")
          .style("font-family", sans)
          .style("font-size", "9.5px")
          .text(loss)
      }
    })
  })

  // legend
  const legend = svg.append("g").attr("transform", "translate(13,17)")
  legend.append("rect")
    .attr("width", 54)
    .attr("height", 54)
    .attr("rx", 2)
    .attr("fill", "#fff")
    .attr("stroke", "#ccc")
    .attr("stroke-width", 0.8)
  algorithms.forEach((alg, i) => {
    const item = legend.append("g").attr("transform", `translate(0,${6.3 + i * 10.2})`)
    item.append("line")
      .attr("x1", 3).attr("x2", 19)
      .attr("stroke", colors[alg])
      .attr("stroke-width", 1.1)
      .attr("stroke-dasharray", alg === "SVRG" ? "4,1.6,1,1.6" : null)
    if (markers[alg]) {
      item.append("path")
        .attr("transform", "translate(11,0)")
        .attr("d", markers[alg].d)
        .attr("fill", markers[alg].fill)
        .attr("stroke", colors[alg])
        .attr("stroke-width", alg === "CG" ? 0.4 : 0.9)
    }
    item.append("text")
      .attr("x", 23)
      .attr("dy", "0.35em")
      .style("font-family", sans)
      .style("font-size", "7px")
      .text(alg)
  })

  // sub-figure labels and caption
  svg.append("text").attr("x", 222).attr("y", 311).attr("text-anchor", "middle")
    .style("font-family", serif).style("font-size", "10.5px").text("(a)")
  svg.append("text").attr("x", 496).attr("y", 311).attr("text-anchor", "middle")
    .style("font-family", serif).style("font-size", "10.5px").text("(b)")

  const caption = svg.append("text").attr("x", -1).attr("y", 334)
    .style("font-family", serif).style("font-size", "10.7px")
  caption.append("tspan").text("2.   Convergence of four loss functions with λ = 10")
  caption.append("tspan").attr("dy", -4).style("font-size", "7.5px").text("−4")
  caption.append("tspan").attr("dy", 4).text(" for five algorithms on six data sets. (a) y-axis represents the logarithm of the loss value (base")
}

drawChart()
</script>
</body>
</html>
